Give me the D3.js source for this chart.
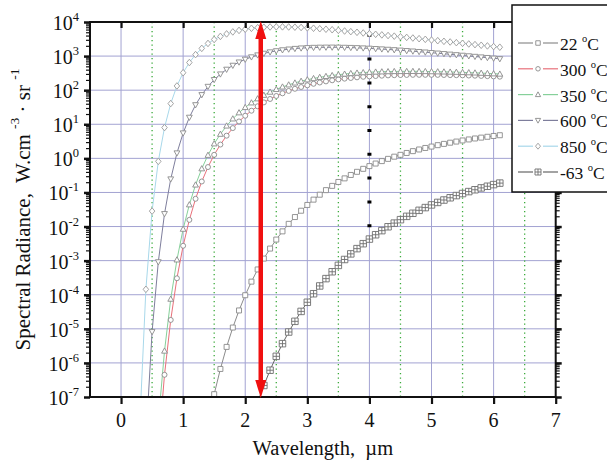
<!DOCTYPE html>
<html><head><meta charset="utf-8">
<script src="https://cdn.jsdelivr.net/npm/d3@7"></script>
<style>
body{margin:0;background:#fff}
svg{display:block}
text{font-family:"Liberation Serif","Times New Roman",serif;fill:#111;white-space:pre}
</style>
</head><body>
<svg id="c" width="607" height="464"></svg>
<script>
// ---------- data ----------
const wavelengths = [0.3,0.4,0.5,0.6,0.7,0.8,0.9,1.0,1.1,1.2,1.3,1.4,1.5,1.6,1.7,1.8,1.9,2.0,2.1,2.2,2.3,2.4,2.5,2.6,2.7,2.8,2.9,3.0,3.1,3.2,3.3,3.4,3.5,3.6,3.7,3.8,3.9,4.0,4.1,4.2,4.3,4.4,4.5,4.6,4.7,4.8,4.9,5.0,5.1,5.2,5.3,5.4,5.5,5.6,5.7,5.8,5.9,6.0,6.1];

const seriesNames = ["22 °C","300 °C","350 °C","600 °C","850 °C","-63 °C"];
const legendNumbers = ["22","300","350","600","850","-63"];

const r22 = [null,null,null,null,null,null,null,null,null,null,null,
  1.67e-8,1.21e-7,6.65e-7,2.95e-6,1.09e-5,3.46e-5,9.67e-5,2.42e-4,5.51e-4,1.15e-3,2.26e-3,4.15e-3,7.22e-3,1.20e-2,1.90e-2,2.91e-2,4.30e-2,6.16e-2,8.59e-2,0.117,0.156,0.203,0.259,0.326,0.403,0.493,0.593,0.705,0.831,0.967,1.12,1.27,1.44,1.63,1.82,2.02,2.22,2.44,2.66,2.88,3.11,3.35,3.59,3.83,4.06,4.30,4.54,4.77];

const r300 = [null,null,null,
  2.83e-9,4.48e-7,1.82e-5,3.04e-4,2.73e-3,1.57e-2,6.51e-2,0.210,0.556,1.27,2.54,4.63,7.74,12.1,17.8,25.0,33.7,43.8,55.2,67.6,81.0,95.1,110,124,139,154,168,181,195,207,218,228,238,247,254,260,266,271,275,278,280,282,282,282,282,281,279,277,275,272,269,266,262,258,254,249];

const r350 = [null,null,null,
  1.85e-8,2.24e-6,7.47e-5,1.06e-3,8.43e-3,4.38e-2,0.167,0.499,1.24,2.69,5.14,8.98,14.5,21.9,31.3,42.8,56.3,71.4,88.3,106,125,144,164,184,203,221,239,255,271,285,298,310,320,329,337,343,348,352,355,356,357,358,357,355,352,349,346,342,338,333,328,323,317,311,305,299];

const r600 = [null,
  5.38e-9,8.18e-6,9.16e-4,2.37e-2,0.247,1.43,5.52,15.9,37.0,73.2,128,203,296,407,532,664,801,939,1072,1197,1315,1419,1512,1592,1658,1713,1752,1783,1803,1811,1815,1808,1790,1771,1746,1717,1683,1645,1607,1566,1523,1479,1434,1392,1346,1301,1256,1213,1171,1127,1088,1047,1008,971,934,898,863,829];

const r850 = [1.40e-8,1.44e-4,2.84e-2,0.817,8.00,40.5,133,325,647,1107,1683,2350,3070,3784,4477,5117,5662,6138,6531,6823,7015,7161,7211,7211,7145,7047,6918,6745,6561,6353,6138,5929,5689,5445,5212,4989,4764,4539,4353,4184,4012,3847,3690,3531,3386,3240,3099,2958,2830,2709,2591,2479,2372,2269,2172,2078,1988,1902,1820];

const rm63 = [null,null,null,null,null,null,null,null,null,null,null,null,null,null,null,null,null,null,null,
  7.06e-8,2.18e-7,6.11e-7,1.56e-6,3.67e-6,8.06e-6,1.66e-5,3.24e-5,6.01e-5,1.07e-4,1.81e-4,2.97e-4,4.72e-4,7.25e-4,1.08e-3,1.58e-3,2.25e-3,3.14e-3,4.29e-3,5.75e-3,7.59e-3,9.86e-3,1.26e-2,1.59e-2,1.99e-2,2.45e-2,2.99e-2,3.60e-2,4.31e-2,5.10e-2,6.00e-2,6.98e-2,8.09e-2,9.29e-2,0.106,0.120,0.136,0.152,0.170,0.188];

const xTickValues = [0,1,2,3,4,5,6,7];
const yExponents = [-7,-6,-5,-4,-3,-2,-1,0,1,2,3,4];
const greenLines = [0.5,1.5,2.5,3.5,4.5,5.5,6.5];
const arrowWavelength = 2.25;
const dashWavelength = 4.0;
const dashRange = [9.4e-3, 4.5e3]; // black dashed marker span
const xDomain = [-0.5, 7];
const yDomain = [1e-7, 1e4];

// ---------- layout ----------
const svg = d3.select("#c");
const L = 90, R = 555.7, T = 22, B = 397;
const x = d3.scaleLinear().domain(xDomain).range([L, R]);
const y = d3.scaleLog().domain(yDomain).range([B, T]);

const gridColor = "#a3a3d2";
const defs = svg.append("defs");
defs.append("clipPath").attr("id","plotclip")
  .append("rect").attr("x",L).attr("y",T).attr("width",R-L).attr("height",B-T);

// grid
const g = svg.append("g");
g.selectAll(".hg").data(yExponents.slice(1,-1)).join("line")
  .attr("x1",L).attr("x2",R).attr("y1",d=>y(Math.pow(10,d))).attr("y2",d=>y(Math.pow(10,d)))
  .attr("stroke",gridColor).attr("stroke-width",1);
g.selectAll(".vg").data(xTickValues.slice(0,-1)).join("line")
  .attr("x1",d=>x(d)).attr("x2",d=>x(d)).attr("y1",T).attr("y2",B)
  .attr("stroke",gridColor).attr("stroke-width",1);
g.selectAll(".gg").data(greenLines).join("line")
  .attr("x1",d=>x(d)).attr("x2",d=>x(d)).attr("y1",T).attr("y2",B)
  .attr("stroke","#3aaa3a").attr("stroke-width",1.3).attr("stroke-dasharray","1.3,3.2");

// black dashed line at 4 um
svg.append("line")
  .attr("x1",x(dashWavelength)).attr("x2",x(dashWavelength))
  .attr("y1",y(dashRange[1])).attr("y2",y(dashRange[0]))
  .attr("stroke","#000").attr("stroke-width",4).attr("stroke-dasharray","3,20.8");

// series
const seriesData = [r22, r300, r350, r600, r850, rm63];
const lineColors = ["#8c8c8c","#e8707a","#86d09a","#7e7e9c","#a8d8ea","#666666"];
const markerColors = ["#8a8a8a","#8a8a8a","#8a8a8a","#8a8a8a","#9a9a9a","#6e6e6e"];
const markerKinds = ["square","circle","triUp","triDown","diamond","squarePlus"];

function markerPath(kind, s){
  const h = s/2;
  switch(kind){
    case "square": return `M${-h},${-h}H${h}V${h}H${-h}Z`;
    case "circle": return `M${h},0A${h},${h} 0 1,1 ${-h},0A${h},${h} 0 1,1 ${h},0Z`;
    case "triUp": return `M0,${-h*1.1}L${h*1.05},${h*0.8}L${-h*1.05},${h*0.8}Z`;
    case "triDown": return `M0,${h*1.1}L${h*1.05},${-h*0.8}L${-h*1.05},${-h*0.8}Z`;
    case "diamond": return `M0,${-h*1.2}L${h*1.0},0L0,${h*1.2}L${-h*1.0},0Z`;
    case "squarePlus": return `M${-h},${-h}H${h}V${h}H${-h}ZM0,${-h}V${h}M${-h},0H${h}`;
  }
}
const markerSizes = [5,5,5.5,5.5,5.5,6.5];

const plot = svg.append("g").attr("clip-path","url(#plotclip)");
const line = d3.line().defined(d=>d[1]!=null).x(d=>x(d[0])).y(d=>y(d[1]));
seriesData.forEach((vals,i)=>{
  const pts = wavelengths.map((w,k)=>[w, vals[k]]);
  plot.append("path").datum(pts).attr("d",line)
    .attr("fill","none").attr("stroke",lineColors[i]).attr("stroke-width",1);
});
seriesData.forEach((vals,i)=>{
  const pts = wavelengths.map((w,k)=>[w, vals[k]]).filter(d=>d[1]!=null);
  plot.selectAll(null).data(pts).join("path")
    .attr("transform",d=>`translate(${x(d[0])},${y(d[1])})`)
    .attr("d",markerPath(markerKinds[i], markerSizes[i]))
    .attr("fill","#fff").attr("stroke",markerColors[i]).attr("stroke-width",0.9);
});

// frame
svg.append("rect").attr("x",L).attr("y",T).attr("width",R-L).attr("height",B-T)
  .attr("fill","none").attr("stroke","#111").attr("stroke-width",2);

// axes ticks
const minor = [];
for(let e=-7;e<4;e++){ for(let m=2;m<10;m++) minor.push(m*Math.pow(10,e)); }
const majorY = yExponents.map(e=>Math.pow(10,e));

function styleAxis(sel){ sel.select(".domain").remove(); sel.selectAll("line").attr("stroke","#111"); }

svg.append("g").attr("transform",`translate(${L},0)`)
  .call(d3.axisLeft(y).tickValues(majorY).tickSize(6).tickFormat(""))
  .call(styleAxis).selectAll("line").attr("stroke-width",2.5);
svg.append("g").attr("transform",`translate(${L},0)`)
  .call(d3.axisLeft(y).tickValues(minor).tickSize(4).tickFormat(""))
  .call(styleAxis).selectAll("line").attr("stroke-width",1.2);
svg.append("g").attr("transform",`translate(${R},0)`)
  .call(d3.axisRight(y).tickValues(majorY).tickSize(6).tickFormat(""))
  .call(styleAxis).selectAll("line").attr("stroke-width",2.5);
svg.append("g").attr("transform",`translate(${R},0)`)
  .call(d3.axisRight(y).tickValues(minor).tickSize(4).tickFormat(""))
  .call(styleAxis).selectAll("line").attr("stroke-width",1.2);
svg.append("g").attr("transform",`translate(0,${B})`)
  .call(d3.axisBottom(x).tickValues(xTickValues).tickSize(7).tickFormat(""))
  .call(styleAxis).selectAll("line").attr("stroke-width",2.2);
svg.append("g").attr("transform",`translate(0,${T})`)
  .call(d3.axisBottom(x).tickValues(xTickValues).tickSize(6).tickFormat(""))
  .call(styleAxis).selectAll("line").attr("stroke-width",2.2);

// y tick labels
const yl = svg.append("g");
yExponents.forEach(e=>{
  const t = yl.append("text").attr("x",79).attr("y",y(Math.pow(10,e))+8)
    .attr("text-anchor","end").style("font-size","20px");
  t.append("tspan").text("10");
  t.append("tspan").attr("dy",-9).style("font-size","12.5px").text(String(e));
});
// x tick labels
svg.append("g").selectAll("text").data(xTickValues).join("text")
  .attr("x",d=>x(d)).attr("y",427).attr("text-anchor","middle")
  .style("font-size","20px").text(d=>d);

// axis titles
svg.append("text").attr("x",(L+R)/2).attr("y",455).attr("text-anchor","middle")
  .style("font-size","20.5px").text("Wavelength,  \u00b5m");
const yt = svg.append("text").attr("transform",`translate(30,${(T+B)/2}) rotate(-90)`)
  .attr("text-anchor","middle").style("font-size","21px");
yt.append("tspan").text("Spectral Radiance,  W.cm ");
yt.append("tspan").attr("dy",-11).style("font-size","13.5px").text("-3");
yt.append("tspan").attr("dy",11).text(" \u00b7 sr ");
yt.append("tspan").attr("dy",-11).style("font-size","13.5px").text("-1");

// red double arrow
const ax = x(arrowWavelength);
const ay1 = y(yDomain[1]), ay2 = y(yDomain[0]);
svg.append("line").attr("x1",ax).attr("x2",ax).attr("y1",ay1+12).attr("y2",ay2-12)
  .attr("stroke","#f01010").attr("stroke-width",4.5);
svg.append("path").attr("d",`M${ax},${ay1-1}L${ax+5.5},${ay1+17}L${ax-5.5},${ay1+17}Z`).attr("fill","#f01010");
svg.append("path").attr("d",`M${ax},${ay2+1}L${ax+5.5},${ay2-17}L${ax-5.5},${ay2-17}Z`).attr("fill","#f01010");

// legend
const lg = svg.append("g");
lg.append("rect").attr("x",512).attr("y",5).attr("width",120).attr("height",187)
  .attr("fill","#fff").attr("stroke","#111").attr("stroke-width",1.5);
legendNumbers.forEach((n,i)=>{
  const cy = 43 + i*25.8;
  lg.append("line").attr("x1",518).attr("x2",533).attr("y1",cy).attr("y2",cy).attr("stroke",lineColors[i]).attr("stroke-width",1.2);
  lg.append("line").attr("x1",543).attr("x2",558).attr("y1",cy).attr("y2",cy).attr("stroke",lineColors[i]).attr("stroke-width",1.2);
  lg.append("path").attr("transform",`translate(538,${cy})`).attr("d",markerPath(markerKinds[i], markerSizes[i]-0.5))
    .attr("fill","#fff").attr("stroke",markerColors[i]).attr("stroke-width",0.9);
  const t = lg.append("text").attr("x",560).attr("y",cy+7).style("font-size","17.5px");
  t.append("tspan").text(n+" ");
  t.append("tspan").attr("dy",-8).style("font-size","10.5px").text("o");
  t.append("tspan").attr("dy",8).text("C");
});
</script>
</body></html>
